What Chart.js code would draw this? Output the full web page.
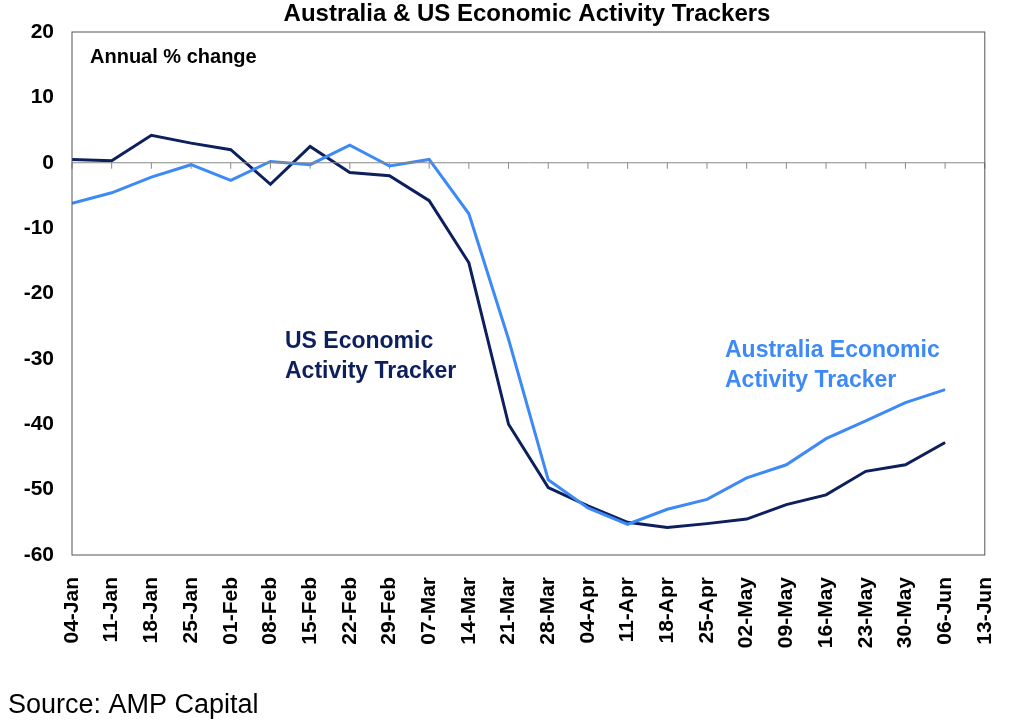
<!DOCTYPE html>
<html><head><meta charset="utf-8">
<script src="https://cdn.jsdelivr.net/npm/chart.js@4/dist/chart.umd.min.js"></script>
<style>body{margin:0;background:#fff}#wrap{width:1024px;height:726px;position:relative}</style>
</head><body><div id="wrap"><canvas id="c"></canvas></div>
<script>
var dates = ['04-Jan','11-Jan','18-Jan','25-Jan','01-Feb','08-Feb','15-Feb','22-Feb','29-Feb','07-Mar','14-Mar','21-Mar','28-Mar','04-Apr','11-Apr','18-Apr','25-Apr','02-May','09-May','16-May','23-May','30-May','06-Jun','13-Jun'];
var usValues = [0.5, 0.3, 4.2, 3.0, 2.0, -3.3, 2.5, -1.5, -2.0, -5.8, -15.3, -40.0, -49.7, -52.5, -55.0, -55.8, -55.2, -54.5, -52.3, -50.8, -47.2, -46.2, -42.8];
var ausValues = [-6.2, -4.6, -2.2, -0.3, -2.7, 0.2, -0.3, 2.7, -0.5, 0.5, -7.8, -27.0, -48.5, -52.8, -55.3, -53.0, -51.5, -48.2, -46.2, -42.2, -39.5, -36.7, -34.7];
var yTicks = [20, 10, 0, -10, -20, -30, -40, -50, -60];

var font = 'Liberation Sans, Arial, sans-serif';
function pts(arr) { return arr.map(function (v, i) { return { x: i, y: v }; }); }

var extras = {
  id: 'extras',
  afterDraw: function (chart) {
    var ctx = chart.ctx, x = chart.scales.x, y = chart.scales.y, a = chart.chartArea;
    ctx.save();
    // zero line with tick marks
    var y0 = y.getPixelForValue(0);
    ctx.strokeStyle = '#888'; ctx.lineWidth = 1;
    ctx.beginPath(); ctx.moveTo(a.left, y0); ctx.lineTo(a.right, y0);
    for (var i = 0; i < dates.length; i++) {
      var px = x.getPixelForValue(i);
      ctx.moveTo(px, y0); ctx.lineTo(px, y0 + 6);
    }
    ctx.stroke();
    // plot border
    ctx.strokeStyle = '#555';
    ctx.strokeRect(a.left, a.top, a.right - a.left, a.bottom - a.top);
    ctx.fillStyle = '#000';
    ctx.textAlign = 'center';
    ctx.font = 'bold 24px ' + font;
    ctx.fillText('Australia & US Economic Activity Trackers', 527, 21);
    ctx.textAlign = 'left';
    ctx.font = 'bold 20px ' + font;
    ctx.fillText('Annual % change', 90, 63);
    ctx.font = 'bold 23px ' + font;
    ctx.fillStyle = '#0d1f5c';
    ctx.fillText('US Economic', 285, 348);
    ctx.fillText('Activity Tracker', 285, 378);
    ctx.fillStyle = '#3d8af7';
    ctx.fillText('Australia Economic', 725, 357);
    ctx.fillText('Activity Tracker', 725, 387);
    ctx.fillStyle = '#000';
    ctx.font = '27px ' + font;
    ctx.fillText('Source: AMP Capital', 8, 713);
    ctx.restore();
  }
};

new Chart(document.getElementById('c'), {
  type: 'line',
  data: {
    datasets: [
      { label: 'Australia', data: pts(ausValues), borderColor: '#3d8af7', borderWidth: 3, pointRadius: 0, tension: 0 },
      { label: 'US', data: pts(usValues), borderColor: '#0d1f5c', borderWidth: 3, pointRadius: 0, tension: 0 }
    ]
  },
  options: {
    responsive: true, maintainAspectRatio: false, animation: false,
    layout: { padding: { top: 32, right: 29, bottom: 76, left: 0 } },
    plugins: { legend: { display: false }, tooltip: { enabled: false } },
    scales: {
      x: {
        type: 'linear', min: 0, max: dates.length - 1,
        grid: { display: false }, border: { display: false },
        afterBuildTicks: function (s) { s.ticks = dates.map(function (d, i) { return { value: i }; }); },
        afterFit: function (s) { s.height = 95; },
        ticks: { autoSkip: false, maxRotation: 90, minRotation: 90, color: '#000', padding: 14,
          font: { family: font, size: 21, weight: 'bold' },
          callback: function (v) { return dates[v]; } }
      },
      y: {
        min: -60, max: 20,
        grid: { display: false }, border: { display: false },
        afterBuildTicks: function (s) { s.ticks = yTicks.map(function (v) { return { value: v }; }); },
        afterFit: function (s) { s.width = 72; },
        ticks: { color: '#000', font: { family: font, size: 21, weight: 'bold' }, padding: 10 }
      }
    }
  },
  plugins: [extras]
});
</script></body></html>
